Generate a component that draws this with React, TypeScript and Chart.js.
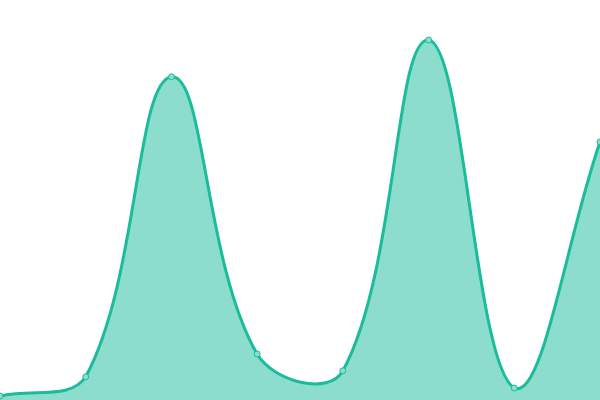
import React, { useEffect, useRef } from 'react';
import { Chart, registerables } from 'chart.js';

Chart.register(...registerables);

const labels = ['1', '2', '3', '4', '5', '6', '7', '8'];
const values = [1, 5.8, 80.8, 11.5, 7.3, 90, 3, 64.5];

function App() {
  const chartRef = useRef<HTMLCanvasElement>(null);
  const chartInstance = useRef<Chart | null>(null);

  useEffect(() => {
    document.body.style.margin = '0';
    if (!chartRef.current) return;
    const ctx = chartRef.current.getContext('2d');
    if (!ctx) return;

    chartInstance.current = new Chart(ctx, {
      type: 'line',
      data: {
        labels,
        datasets: [
          {
            data: values,
            borderColor: '#1abc9c',
            backgroundColor: 'rgba(26, 188, 156, 0.5)',
            borderWidth: 3,
            fill: 'origin',
            tension: 0.4,
            pointRadius: 3,
            pointBorderWidth: 1,
            pointBackgroundColor: '#8cddcd',
            pointBorderColor: '#1abc9c',
          },
        ],
      },
      options: {
        responsive: true,
        maintainAspectRatio: false,
        animation: false,
        layout: { padding: 0, autoPadding: false },
        plugins: {
          legend: { display: false },
          tooltip: { enabled: false },
        },
        scales: {
          x: { display: false },
          y: { display: false, min: 0, max: 100 },
        },
      },
    });

    return () => {
      if (chartInstance.current) {
        chartInstance.current.destroy();
        chartInstance.current = null;
      }
    };
  }, []);

  return (
    <div style={{ width: '600px', height: '400px', position: 'relative' }}>
      <canvas ref={chartRef}></canvas>
    </div>
  );
}

export default App;
